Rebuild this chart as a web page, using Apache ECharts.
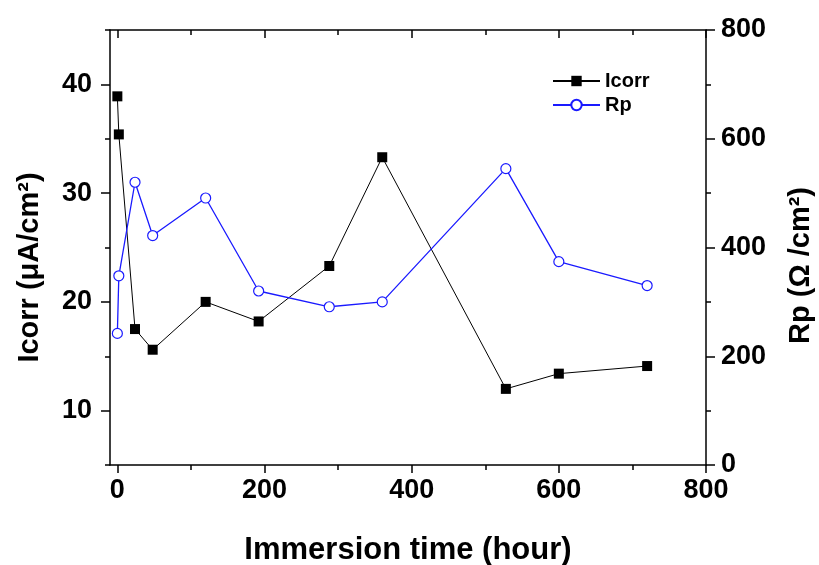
<!DOCTYPE html>
<html>
<head>
<meta charset="utf-8">
<script src="https://cdn.jsdelivr.net/npm/echarts@6/dist/echarts.min.js"></script>
<style>
  html, body { margin: 0; padding: 0; background: #fff; }
  #chart { width: 819px; height: 565px; }
</style>
</head>
<body>
<div id="chart"></div>
<script>
// immersion time (hour)
var hours = [0, 2, 24, 48, 120, 192, 288, 360, 528, 600, 720];
// corrosion current, left axis
var icorr = [38.9, 35.4, 17.5, 15.6, 20.0, 18.2, 23.3, 33.3, 12.0, 13.4, 14.1];
// polarisation resistance, right axis
var rp = [242, 348, 520, 422, 491, 320, 291, 300, 545, 374, 330];

var xMajor = [0, 200, 400, 600, 800];
var xMinor = [100, 300, 500, 700];
var leftMajor = [10, 20, 30, 40];
var leftMinor = [5, 15, 25, 35, 45];
var rightMajor = [0, 200, 400, 600, 800];
var rightMinor = [100, 300, 500, 700];

var font = 'Liberation Sans, Arial, sans-serif';
var lineStyle = { color: '#000', width: 1.5 };

function pair(arrX, arrY) {
  return arrX.map(function (x, i) { return [x, arrY[i]]; });
}

// axis helper: one axis per tick set so major / minor ticks get own length
function tickAxis(opts) {
  var a = {
    type: 'value',
    position: opts.position,
    min: opts.min,
    max: opts.max,
    splitLine: { show: false },
    axisLine: { show: opts.line !== false, onZero: false, lineStyle: lineStyle },
    axisTick: {
      show: true,
      inside: !!opts.inside,
      length: opts.len,
      customValues: opts.ticks,
      lineStyle: lineStyle
    },
    axisLabel: { show: false }
  };
  if (opts.labels) {
    a.axisLabel = {
      show: true,
      customValues: opts.labels,
      margin: opts.margin,
      fontFamily: font,
      fontWeight: 'bold',
      fontSize: 27,
      color: '#000'
    };
  }
  if (opts.name) {
    a.name = opts.name;
    a.nameLocation = 'middle';
    a.nameGap = opts.nameGap;
    a.nameTextStyle = {
      fontFamily: font, fontWeight: 'bold', fontSize: opts.nameSize, color: '#000',
      padding: opts.namePad || 0
    };
  }
  return a;
}

var myChart = echarts.init(document.getElementById('chart'));
myChart.setOption({
  animation: false,
  backgroundColor: '#fff',
  grid: { left: 110, right: 113, top: 30, bottom: 100, containLabel: false, outerBoundsMode: 'none' },
  legend: {
    orient: 'vertical',
    left: 547,
    top: 66,
    itemWidth: 47,
    itemHeight: 13,
    itemGap: 4,
    data: ['Icorr', 'Rp'],
    textStyle: { fontFamily: font, fontWeight: 'bold', fontSize: 20, color: '#000' }
  },
  xAxis: [
    tickAxis({ position: 'bottom', min: -10, max: 800, len: 8, ticks: xMajor, labels: xMajor, margin: 12,
               name: 'Immersion time (hour)', nameGap: 70, nameSize: 31 }),
    tickAxis({ position: 'bottom', min: -10, max: 800, len: 5, ticks: xMinor, line: false }),
    tickAxis({ position: 'top', min: -10, max: 800, len: 8, ticks: xMajor, inside: true }),
    tickAxis({ position: 'top', min: -10, max: 800, len: 5, ticks: xMinor, inside: true, line: false })
  ],
  yAxis: [
    tickAxis({ position: 'left', min: 5, max: 45, len: 9, ticks: leftMajor, labels: leftMajor, margin: 18,
               name: 'Icorr (μA/cm²)', nameGap: 66, nameSize: 29, namePad: [0, 40, 0, 0] }),
    tickAxis({ position: 'left', min: 5, max: 45, len: 5, ticks: leftMinor, line: false }),
    tickAxis({ position: 'right', min: 0, max: 800, len: 9, ticks: rightMajor, labels: rightMajor, margin: 15,
               name: 'Rp (Ω /cm²)', nameGap: 80, nameSize: 29, namePad: [0, 36, 0, 0] }),
    tickAxis({ position: 'right', min: 0, max: 800, len: 5, ticks: rightMinor, line: false })
  ],
  series: [
    {
      name: 'Icorr',
      type: 'line',
      xAxisIndex: 0,
      yAxisIndex: 0,
      data: pair(hours, icorr),
      symbol: 'rect',
      symbolSize: 10,
      lineStyle: { color: '#000', width: 1 },
      itemStyle: { color: '#000', borderWidth: 0 }
    },
    {
      name: 'Rp',
      type: 'line',
      xAxisIndex: 0,
      yAxisIndex: 2,
      data: pair(hours, rp),
      symbol: 'circle',
      symbolSize: 10,
      lineStyle: { color: '#1a1aff', width: 1.3 },
      itemStyle: { color: '#fff', borderColor: '#1a1aff', borderWidth: 1.2 }
    }
  ]
});
</script>
</body>
</html>
